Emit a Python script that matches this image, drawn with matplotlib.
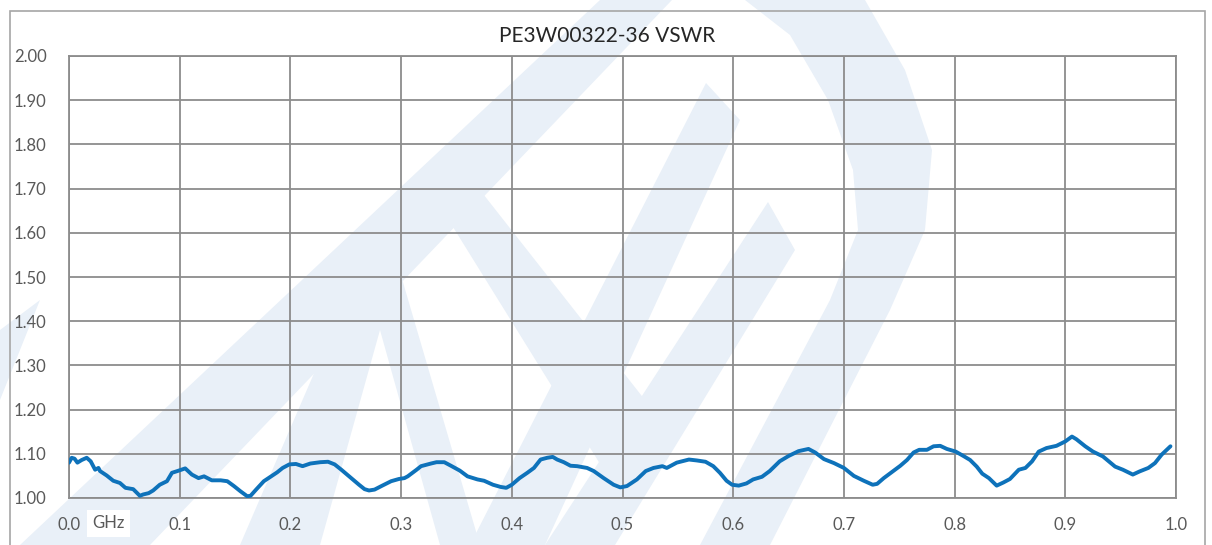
import numpy as np
import matplotlib
matplotlib.use("Agg")
import matplotlib.pyplot as plt
from matplotlib.patches import Polygon, Rectangle

plt.rcParams['font.family'] = ['Lato', 'DejaVu Sans']

# Частота, ГГц и КСВН
freq = [0.000, 0.0024, 0.005, 0.0076, 0.0115, 0.016, 0.0196, 0.0236, 0.0266, 0.028,
        0.034, 0.040, 0.046, 0.051, 0.058, 0.064, 0.067, 0.072, 0.076, 0.082,
        0.0885, 0.093, 0.098, 0.105, 0.111, 0.117, 0.122, 0.129, 0.137, 0.143,
        0.149, 0.155, 0.161, 0.164, 0.169, 0.176, 0.182, 0.188, 0.193, 0.199,
        0.205, 0.211, 0.218, 0.227, 0.234, 0.240, 0.246, 0.255, 0.262, 0.267,
        0.271, 0.276, 0.283, 0.291, 0.298, 0.303, 0.306, 0.314, 0.318, 0.327,
        0.332, 0.339, 0.345, 0.353, 0.360, 0.369, 0.375, 0.383, 0.390, 0.395,
        0.400, 0.407, 0.414, 0.420, 0.426, 0.432, 0.437, 0.441, 0.447, 0.453,
        0.459, 0.468, 0.474, 0.483, 0.492, 0.498, 0.504, 0.513, 0.521, 0.528,
        0.536, 0.540, 0.549, 0.560, 0.567, 0.575, 0.582, 0.588, 0.594, 0.599,
        0.605, 0.612, 0.618, 0.626, 0.633, 0.642, 0.650, 0.659, 0.668, 0.674,
        0.682, 0.691, 0.700, 0.709, 0.718, 0.726, 0.730, 0.736, 0.744, 0.751,
        0.757, 0.763, 0.768, 0.775, 0.781, 0.787, 0.793, 0.801, 0.808, 0.814,
        0.820, 0.825, 0.831, 0.838, 0.844, 0.850, 0.858, 0.864, 0.870, 0.876,
        0.883, 0.892, 0.900, 0.906, 0.910, 0.918, 0.925, 0.934, 0.945, 0.952,
        0.961, 0.967, 0.975, 0.981, 0.987, 0.995]
vswr = [1.080, 1.091, 1.089, 1.080, 1.086, 1.091, 1.083, 1.064, 1.068, 1.061,
        1.051, 1.039, 1.034, 1.023, 1.020, 1.005, 1.008, 1.011, 1.017, 1.030,
        1.038, 1.057, 1.061, 1.067, 1.053, 1.045, 1.049, 1.040, 1.040, 1.038,
        1.027, 1.015, 1.004, 1.005, 1.019, 1.038, 1.048, 1.058, 1.068, 1.076,
        1.077, 1.072, 1.078, 1.081, 1.082, 1.076, 1.064, 1.045, 1.030, 1.020,
        1.017, 1.019, 1.028, 1.038, 1.043, 1.045, 1.049, 1.064, 1.072, 1.078,
        1.081, 1.081, 1.073, 1.062, 1.049, 1.042, 1.039, 1.030, 1.025, 1.023,
        1.030, 1.045, 1.057, 1.068, 1.087, 1.091, 1.093, 1.087, 1.081, 1.073,
        1.072, 1.068, 1.061, 1.045, 1.030, 1.024, 1.027, 1.042, 1.061, 1.068,
        1.072, 1.068, 1.080, 1.087, 1.085, 1.082, 1.072, 1.057, 1.039, 1.030,
        1.028, 1.033, 1.042, 1.048, 1.061, 1.083, 1.095, 1.106, 1.111, 1.103,
        1.088, 1.079, 1.068, 1.050, 1.039, 1.030, 1.032, 1.045, 1.060, 1.073,
        1.086, 1.103, 1.109, 1.109, 1.117, 1.118, 1.111, 1.105, 1.095, 1.086,
        1.071, 1.055, 1.045, 1.028, 1.035, 1.043, 1.064, 1.068, 1.083, 1.105,
        1.113, 1.118, 1.128, 1.139, 1.133, 1.117, 1.105, 1.094, 1.071, 1.064,
        1.053, 1.060, 1.068, 1.079, 1.098, 1.117]

x_ticks = [0.0, 0.1, 0.2, 0.3, 0.4, 0.5, 0.6, 0.7, 0.8, 0.9, 1.0]
y_ticks = [1.00, 1.10, 1.20, 1.30, 1.40, 1.50, 1.60, 1.70, 1.80, 1.90, 2.00]

W, H = 1212, 545
fig = plt.figure(figsize=(W / 100, H / 100), dpi=100)

# Водяной знак (бледный логотип), координаты в пикселях
wm_shapes = [
    [(20, 545), (150, 545), (672, 0), (600, 0)],
    [(240, 545), (320, 545), (380, 330), (440, 545), (480, 545), (395, 255), (365, 255)],
    [(470, 545), (545, 545), (740, 120), (706, 83)],
    [(745, 0), (865, 0), (905, 70), (932, 150), (925, 230), (890, 310), (770, 545),
     (700, 545), (830, 300), (858, 230), (853, 170), (828, 100), (790, 35)],
    [(768, 202), (795, 250), (615, 545), (545, 545)],
    [(430, 190), (480, 190), (645, 400), (610, 480)],
    [(0, 330), (40, 300), (0, 400)],
]
for pts in wm_shapes:
    fig.patches.append(Polygon([(px / W, 1 - py / H) for px, py in pts], closed=True,
                               transform=fig.transFigure, facecolor='#E9F0F8',
                               edgecolor='none', zorder=0))

# Рамка области диаграммы
fig.patches.append(Rectangle((10 / W, -0.02), 1195 / W, 1 - 11 / H + 0.02,
                             transform=fig.transFigure, fill=False,
                             edgecolor='#A6A6A6', lw=1.2, zorder=1))

ax = fig.add_axes([69 / W, 1 - 498 / H, (1176 - 69) / W, (498 - 56) / H])
ax.patch.set_alpha(0)
ax.set_zorder(2)

ax.plot(freq, vswr, color='#0E72BA', lw=2.8, solid_capstyle='round',
        solid_joinstyle='round', zorder=3)

ax.set_xlim(0, 1.0)
ax.set_ylim(1.0, 2.0)
ax.set_xticks(x_ticks)
ax.set_yticks(y_ticks)
ax.set_xticklabels([f"{t:.1f}" for t in x_ticks])
ax.set_yticklabels([f"{t:.2f}" for t in y_ticks])
ax.grid(True, color='#8C8C8C', lw=1.3)
ax.set_axisbelow(True)
for s in ax.spines.values():
    s.set_color('#8C8C8C')
    s.set_linewidth(1.3)
ax.tick_params(length=0, colors='#595959', labelsize=12)
ax.tick_params(axis='x', pad=14)
ax.tick_params(axis='y', pad=16)

ax.text(0.021, -0.057, "GHz", transform=ax.get_xaxis_transform(), ha='left', va='center',
        fontsize=12, color='#595959',
        bbox=dict(facecolor='white', edgecolor='none', pad=4))

fig.text(607 / W, 1 - 36 / H, "PE3W00322-36 VSWR", ha='center', va='center',
         fontsize=15, color='#262626')

fig.savefig("out.png", dpi=100)
